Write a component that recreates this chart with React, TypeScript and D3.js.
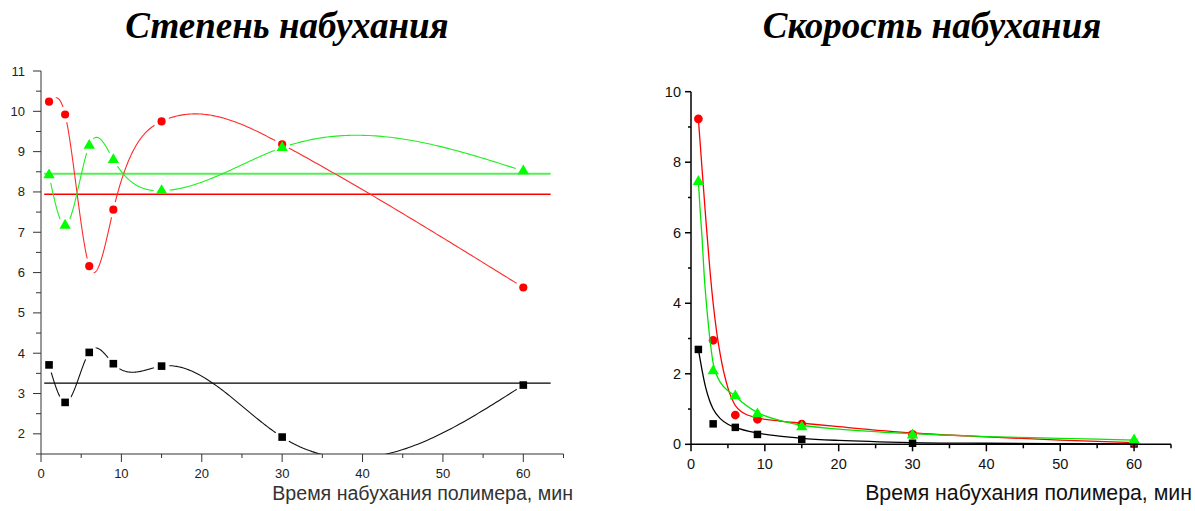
import React from 'react';
import * as d3 from 'd3';

// ---------- data ----------
const times = [1, 3, 6, 9, 15, 30, 60];

// Степень набухания (left chart)
const degreeRed = [10.24, 9.92, 6.16, 7.56, 9.75, 9.18, 5.63];
const degreeGreen = [8.42, 7.17, 9.15, 8.8, 8.03, 9.1, 8.52];
const degreeBlack = [3.71, 2.78, 4.02, 3.74, 3.68, 1.92, 3.21];
const levelRed = [7.94];
const levelGreen = [8.45];
const levelBlack = [3.26];
const levelSpan = [0.4, 63.4];

// Скорость набухания (right chart)
const rateRed = [9.23, 2.95, 0.83, 0.71, 0.57, 0.28, 0.05];
const rateGreen = [7.45, 2.08, 1.37, 0.86, 0.49, 0.26, 0.12];
const rateBlack = [2.69, 0.58, 0.48, 0.28, 0.14, 0.03, 0.01];

// fitted curves
const fitRedX = [1, 1.5, 2, 2.5, 3, 3.5, 4, 5, 6, 7, 9, 12, 15, 20, 30, 40, 50, 60];
const fitRedY = [9.23, 7.8, 6.4, 5.1, 4.0, 3.15, 2.5, 1.6, 1.1, 0.9, 0.75, 0.66, 0.6, 0.5, 0.32, 0.21, 0.12, 0.05];
const fitGreenX = [1, 1.25, 1.5, 1.8, 2, 2.5, 3, 3.5, 4, 5, 6, 7, 9, 12, 15, 20, 30, 40, 50, 60];
const fitGreenY = [7.45, 6.6, 5.85, 4.75, 4.2, 3.1, 2.3, 1.95, 1.75, 1.52, 1.37, 1.18, 0.9, 0.68, 0.54, 0.43, 0.3, 0.22, 0.17, 0.12];
const fitBlackX = [1, 1.5, 2, 2.5, 3, 4, 5, 6, 9, 12, 15, 20, 30, 40, 60];
const fitBlackY = [2.69, 2.1, 1.6, 1.25, 1.0, 0.72, 0.57, 0.48, 0.32, 0.23, 0.17, 0.11, 0.05, 0.03, 0.01];

const xTicksMajor = [0, 10, 20, 30, 40, 50, 60];
const xTicksMinor = [5, 15, 25, 35, 45, 55, 65];
const leftYMajor = [2, 3, 4, 5, 6, 7, 8, 9, 10, 11];
const leftYMinor = [1.5, 2.5, 3.5, 4.5, 5.5, 6.5, 7.5, 8.5, 9.5, 10.5];
const rightYMajor = [0, 2, 4, 6, 8, 10];
const rightYMinor = [1, 3, 5, 7, 9];

const titleLeft = 'Степень набухания';
const titleRight = 'Скорость набухания';
const xLabel = 'Время набухания полимера, мин';

// ---------- helpers ----------
function naturalSpline(xs: number[], ys: number[]) {
  const n = xs.length;
  const h: number[] = [];
  for (let i = 0; i < n - 1; i++) h.push(xs[i + 1] - xs[i]);
  const a: number[] = new Array(n).fill(0);
  const b: number[] = new Array(n).fill(1);
  const c: number[] = new Array(n).fill(0);
  const d: number[] = new Array(n).fill(0);
  for (let i = 1; i < n - 1; i++) {
    a[i] = h[i - 1];
    b[i] = 2 * (h[i - 1] + h[i]);
    c[i] = h[i];
    d[i] = 6 * ((ys[i + 1] - ys[i]) / h[i] - (ys[i] - ys[i - 1]) / h[i - 1]);
  }
  const cp = new Array(n).fill(0);
  const dp = new Array(n).fill(0);
  cp[0] = c[0] / b[0];
  dp[0] = d[0] / b[0];
  for (let i = 1; i < n; i++) {
    const m = b[i] - a[i] * cp[i - 1];
    cp[i] = c[i] / m;
    dp[i] = (d[i] - a[i] * dp[i - 1]) / m;
  }
  const M = new Array(n).fill(0);
  M[n - 1] = dp[n - 1];
  for (let i = n - 2; i >= 0; i--) M[i] = dp[i] - cp[i] * M[i + 1];
  return (x: number) => {
    let i = 0;
    while (i < n - 2 && x > xs[i + 1]) i++;
    const hi = h[i];
    const t1 = xs[i + 1] - x;
    const t0 = x - xs[i];
    return (
      (M[i] * t1 * t1 * t1) / (6 * hi) +
      (M[i + 1] * t0 * t0 * t0) / (6 * hi) +
      (ys[i] / hi - (M[i] * hi) / 6) * t1 +
      (ys[i + 1] / hi - (M[i + 1] * hi) / 6) * t0
    );
  };
}

function splinePoints(xs: number[], ys: number[]): [number, number][] {
  const f = naturalSpline(xs, ys);
  const pts: [number, number][] = [];
  for (let i = 0; i < xs.length - 1; i++) {
    const steps = 80;
    for (let k = 0; k < steps; k++) {
      const x = xs[i] + ((xs[i + 1] - xs[i]) * k) / steps;
      pts.push([x, f(x)]);
    }
  }
  pts.push([xs[xs.length - 1], ys[ys.length - 1]]);
  return pts;
}

const symCircle = d3.symbol().type(d3.symbolCircle);
const symSquare = d3.symbol().type(d3.symbolSquare);
const symTri = d3.symbol().type(d3.symbolTriangle);

// ---------- scales ----------
const lx = d3.scaleLinear().domain([0, 65]).range([41, 563.5]);
const ly = d3.scaleLinear().domain([1.5, 11]).range([454, 71]);
const rx = d3.scaleLinear().domain([0, 65]).range([691, 1171]);
const ry = d3.scaleLinear().domain([0, 10]).range([444.3, 91.7]);

const RED = '#ff0000';
const GREEN = '#00ff00';
const BLACK = '#000000';

export default function App() {
  const leftLine = d3
    .line<[number, number]>()
    .x((d) => lx(d[0]))
    .y((d) => ly(d[1]));
  const rightLine = d3
    .line<[number, number]>()
    .x((d) => rx(d[0]))
    .y((d) => ry(d[1]))
    .curve(d3.curveMonotoneX);

  const leftSeries = [
    { id: 'blk', ys: degreeBlack, color: '#111', level: levelBlack[0], levelColor: '#000', levelW: 1.2, sym: symSquare.size(58), symColor: BLACK },
    { id: 'red', ys: degreeRed, color: '#ff2a2a', level: levelRed[0], levelColor: RED, levelW: 1.5, sym: symCircle.size(52), symColor: RED },
    { id: 'grn', ys: degreeGreen, color: '#22ee22', level: levelGreen[0], levelColor: '#55ee55', levelW: 2, sym: symTri.size(56), symColor: GREEN },
  ];

  const rightSeries = [
    { fx: fitBlackX, fy: fitBlackY, ys: rateBlack, color: BLACK, sym: d3.symbol().type(d3.symbolSquare).size(56)(), symColor: BLACK },
    { fx: fitRedX, fy: fitRedY, ys: rateRed, color: RED, sym: d3.symbol().type(d3.symbolCircle).size(60)(), symColor: RED },
    { fx: fitGreenX, fy: fitGreenY, ys: rateGreen, color: '#00e600', sym: d3.symbol().type(d3.symbolTriangle).size(56)(), symColor: GREEN },
  ];

  const axisGray = '#333';
  const tickFont = "'Liberation Sans', Arial, sans-serif";
  const titleFont = "'Liberation Serif', 'Times New Roman', serif";

  return (
    <svg
      width={1195}
      height={511}
      style={{ position: 'absolute', left: 0, top: 0, background: '#fff' }}
      xmlns="http://www.w3.org/2000/svg"
    >
      <rect x={0} y={0} width={1195} height={511} fill="#fff" />
      <defs>
        <clipPath id="leftClip">
          <rect x={lx(0)} y={ly(11) - 10} width={lx(65) - lx(0)} height={ly(1.5) - ly(11) + 10} />
        </clipPath>
        {leftSeries.map((s) => (
          <mask id={'gap-' + s.id} key={s.id} maskUnits="userSpaceOnUse" x={0} y={0} width={1195} height={511}>
            <rect x={0} y={0} width={1195} height={511} fill="#fff" />
            {times.map((t, i) => (
              <circle key={i} cx={lx(t)} cy={ly(s.ys[i])} r={8} fill="#000" />
            ))}
          </mask>
        ))}
      </defs>

      {/* Titles */}
      <text x={287} y={38} textAnchor="middle" fontFamily={titleFont} fontWeight="bold" fontStyle="italic" fontSize={37}>
        {titleLeft}
      </text>
      <text x={932} y={38} textAnchor="middle" fontFamily={titleFont} fontWeight="bold" fontStyle="italic" fontSize={37}>
        {titleRight}
      </text>

      {/* ---------- LEFT CHART ---------- */}
      <g clipPath="url(#leftClip)">
        {leftSeries.map((s) => (
          <line
            key={'lvl' + s.id}
            x1={lx(levelSpan[0])}
            x2={lx(levelSpan[1])}
            y1={ly(s.level)}
            y2={ly(s.level)}
            stroke={s.levelColor}
            strokeWidth={s.levelW}
          />
        ))}
        {leftSeries.map((s) => (
          <path
            key={'crv' + s.id}
            d={leftLine(splinePoints(times, s.ys)) || ''}
            fill="none"
            stroke={s.color}
            strokeWidth={1.1}
            mask={`url(#gap-${s.id})`}
          />
        ))}
      </g>
      {leftSeries.map((s) => (
        <g key={'mk' + s.id}>
          {times.map((t, i) => (
            <path key={i} d={s.sym() || ''} transform={`translate(${lx(t)},${ly(s.ys[i])})`} fill={s.symColor} />
          ))}
        </g>
      ))}

      {/* left axes */}
      <line x1={lx(0)} x2={lx(0)} y1={ly(11)} y2={ly(1.5)} stroke={axisGray} strokeWidth={1} />
      <line x1={lx(0)} x2={lx(65)} y1={ly(1.5)} y2={ly(1.5)} stroke={axisGray} strokeWidth={1} />
      {leftYMajor.map((v) => (
        <g key={'lym' + v}>
          <line x1={lx(0) - 8} x2={lx(0)} y1={ly(v)} y2={ly(v)} stroke={axisGray} />
          <text x={25} y={ly(v) + 4.5} textAnchor="end" fontFamily={tickFont} fontSize={13} fill="#222">
            {v}
          </text>
        </g>
      ))}
      {leftYMinor.map((v) => (
        <line key={'lyn' + v} x1={lx(0) - 5} x2={lx(0)} y1={ly(v)} y2={ly(v)} stroke={axisGray} />
      ))}
      {xTicksMajor.map((v) => (
        <g key={'lxm' + v}>
          <line x1={lx(v)} x2={lx(v)} y1={ly(1.5)} y2={ly(1.5) + 8} stroke={axisGray} />
          <text x={lx(v)} y={478} textAnchor="middle" fontFamily={tickFont} fontSize={13} fill="#222">
            {v}
          </text>
        </g>
      ))}
      {xTicksMinor.map((v) => (
        <line key={'lxn' + v} x1={lx(v)} x2={lx(v)} y1={ly(1.5)} y2={ly(1.5) + 4} stroke={axisGray} />
      ))}
      <text x={573} y={500} textAnchor="end" fontFamily={tickFont} fontSize={19.6} fill="#333">
        {xLabel}
      </text>

      {/* ---------- RIGHT CHART ---------- */}
      {rightSeries.map((s, si) => (
        <g key={'rs' + si}>
          <path
            d={rightLine(s.fx.map((x, i) => [x, s.fy[i]] as [number, number])) || ''}
            fill="none"
            stroke={s.color}
            strokeWidth={1.3}
          />
          {times.map((t, i) => (
            <path key={i} d={s.sym || ''} transform={`translate(${rx(t)},${ry(s.ys[i])})`} fill={s.symColor} />
          ))}
        </g>
      ))}

      <line x1={rx(0)} x2={rx(0)} y1={ry(10)} y2={ry(0)} stroke="#000" strokeWidth={1.5} />
      <line x1={rx(0)} x2={rx(65)} y1={ry(0)} y2={ry(0)} stroke="#000" strokeWidth={1.5} />
      {rightYMajor.map((v) => (
        <g key={'rym' + v}>
          <line x1={rx(0) - 6} x2={rx(0)} y1={ry(v)} y2={ry(v)} stroke="#000" strokeWidth={1.5} />
          <text x={681} y={ry(v) + 5} textAnchor="end" fontFamily={tickFont} fontSize={14.5} fill="#111">
            {v}
          </text>
        </g>
      ))}
      {rightYMinor.map((v) => (
        <line key={'ryn' + v} x1={rx(0) - 3} x2={rx(0)} y1={ry(v)} y2={ry(v)} stroke="#000" strokeWidth={1.5} />
      ))}
      {xTicksMajor.map((v) => (
        <g key={'rxm' + v}>
          <line x1={rx(v)} x2={rx(v)} y1={ry(0)} y2={ry(0) + 7} stroke="#000" strokeWidth={1.5} />
          <text x={rx(v)} y={469} textAnchor="middle" fontFamily={tickFont} fontSize={14.5} fill="#111">
            {v}
          </text>
        </g>
      ))}
      {xTicksMinor.map((v) => (
        <line key={'rxn' + v} x1={rx(v)} x2={rx(v)} y1={ry(0)} y2={ry(0) + 4} stroke="#000" strokeWidth={1.5} />
      ))}
      <text x={1192} y={500} textAnchor="end" fontFamily={tickFont} fontSize={21.3} fill="#111">
        {xLabel}
      </text>
    </svg>
  );
}
